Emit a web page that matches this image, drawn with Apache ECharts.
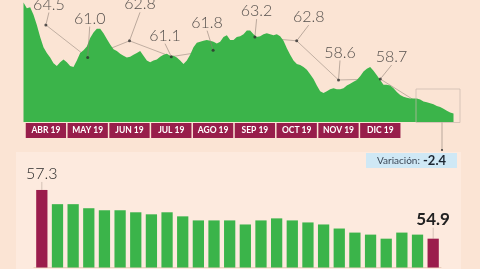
<!DOCTYPE html>
<html><head><meta charset="utf-8">
<script src="https://cdn.jsdelivr.net/npm/echarts@6/dist/echarts.min.js"></script>
<style>html,body{margin:0;padding:0;background:#fbe4d4;} #c{width:480px;height:269px;}</style>
</head><body><div id="c"></div>
<script>
// ---- data ----
const dailyValues = [
66.9, 66.3, 66.4, 65.6, 64.5, 63.2, 62.1, 61.5, 61.0, 60.4,
60.1, 60.5, 60.8, 60.5, 60.1, 60.0, 60.7, 61.5, 61.8, 62.2,
63.1, 63.7, 64.1, 64.1, 63.6, 63.0, 62.4, 61.9, 61.7, 61.4,
61.2, 61.0, 61.1, 61.3, 61.5, 61.7, 61.2, 60.7, 60.5, 60.7,
60.8, 61.1, 61.3, 61.4, 61.2, 61.2, 61.0, 60.7, 60.3, 60.7,
61.3, 62.1, 62.6, 62.7, 62.8, 62.9, 62.8, 62.7, 62.5, 62.7,
63.2, 63.4, 62.9, 62.9, 63.2, 63.3, 63.5, 63.9, 63.9, 63.5,
63.2, 63.3, 63.5, 63.6, 63.5, 63.4, 63.5, 63.3, 62.8, 62.0,
61.3, 60.7, 60.3, 60.2, 60.0, 59.7, 59.2, 58.7, 58.0, 57.4,
57.2, 57.4, 57.6, 57.7, 57.6, 57.6, 57.7, 58.0, 58.2, 58.4,
58.6, 59.0, 59.5, 59.8, 60.0, 59.6, 59.1, 58.6, 58.1, 58.1,
58.0, 57.7, 57.3, 57.0, 56.8, 56.7, 56.6, 56.6, 56.6, 56.5,
56.3, 56.2, 56.1, 56.0, 55.8, 55.7, 55.5, 55.3, 55.1, 55.0
];
const monthLabels = ['ABR 19','MAY 19','JUN 19','JUL 19','AGO 19','SEP 19','OCT 19','NOV 19','DIC 19','ENE 20'];
const monthlyValues = [64.5, 61.0, 62.8, 61.1, 61.8, 63.2, 62.8, 58.6, 58.7, 55.9];
const barCategories = ['1','2','3','4','5','6','7','8','9','10','11','12','13','14','15','16','17','18','19','20','21','22','23','24','25','26'];
const barValues = [57.3, 56.6, 56.6, 56.4, 56.3, 56.3, 56.2, 56.1, 56.2, 56.0, 55.8, 55.8, 55.8, 55.6, 55.8, 55.9, 55.8, 55.7, 55.6, 55.4, 55.2, 55.1, 54.9, 55.2, 55.1, 54.9];
const variationLabel = 'Variación:';
const variationValue = '-2.4';

// ---- styling / layout ----
const GREEN = '#3bb44a', MAROON = '#9b1d4c';
const labelOffsets = [[3,-20.5],[2,-39],[10.5,-36.5],[-6.3,-21],[-6,-27.5],[1.7,-26],[12,-23.7],[1.5,-27.5],[11.3,-22]];
const FONT = 'Lato, "Open Sans", sans-serif';

const chart = echarts.init(document.getElementById('c'), null, {renderer:'canvas'});

const monthAxisData = monthLabels.map((m, i) => i < 9 ? m : {value: m, textStyle: {color: 'transparent', backgroundColor: 'transparent'}});

const dotData = monthlyValues.map((v, i) => i < 9 ? v : {value: v, symbolSize: 0, label: {show: false}, labelLine: {show: false}});

const barData = barValues.map((v, i) => {
  const last = i === barValues.length - 1;
  const first = i === 0;
  const item = {value: v, itemStyle: {color: (first || last) ? MAROON : GREEN}};
  if (first) item.label = {show: true, position: 'top', distance: 0, fontSize: 16, fontWeight: 300, fontFamily: FONT, color: '#2a2a2a'};
  if (last) item.label = {show: true, position: 'top', distance: 0, fontSize: 17, fontWeight: 'bold', fontFamily: FONT, color: '#222'};
  return item;
});

chart.setOption({
  backgroundColor: '#fbe4d4',
  animation: false,
  grid: [
    {left: 23.5, width: 430, top: 0, height: 122},
    {left: 25, width: 418, top: 0, height: 122},
    {left: 34, right: 39, top: 152, bottom: 1.5}
  ],
  xAxis: [
    {gridIndex: 0, type: 'category', boundaryGap: false, show: false},
    {gridIndex: 1, type: 'category', data: monthAxisData, axisLine: {show: false}, axisTick: {show: false},
     axisLabel: {margin: 1, color: '#fff', fontWeight: 'bold', fontSize: 8.5, fontFamily: FONT,
       backgroundColor: '#981e4b', width: 40.3, height: 15, lineHeight: 15, align: 'center', verticalAlign: 'top', padding: 0}},
    {gridIndex: 2, type: 'category', data: barCategories, axisLine: {show: true, lineStyle: {color: '#e9cdbd', width: 1}}, axisTick: {show: false}, axisLabel: {show: false}}
  ],
  yAxis: [
    {gridIndex: 0, type: 'value', min: 54.09, max: 67.18, show: false},
    {gridIndex: 1, type: 'value', min: 54.09, max: 67.18, show: false},
    {gridIndex: 2, type: 'value', min: 53.48, max: 59.17, show: false}
  ],
  series: [
    {type: 'line', xAxisIndex: 1, yAxisIndex: 1, data: monthlyValues, symbol: 'none', z: 1,
     lineStyle: {color: '#a8988c', width: 0.7}},
    {type: 'line', xAxisIndex: 0, yAxisIndex: 0, data: dailyValues, showSymbol: false, symbol: 'none', z: 2,
     lineStyle: {width: 0}, areaStyle: {color: GREEN, opacity: 1}},
    {type: 'scatter', xAxisIndex: 1, yAxisIndex: 1, data: dotData, symbolSize: 3, z: 3,
     itemStyle: {color: '#2d2d2d'},
     label: {show: true, position: 'inside', formatter: p => p.value.toFixed(1), fontSize: 16, fontWeight: 300, fontFamily: FONT, color: '#2b2b2b'},
     labelLayout: p => { const o = labelOffsets[p.dataIndex]; return o ? {dx: o[0], dy: o[1]} : {}; },
     labelLine: {show: true, lineStyle: {color: '#8f8076', width: 0.6}}
    },
    {type: 'bar', xAxisIndex: 2, yAxisIndex: 2, data: barData, barCategoryGap: '28%', z: 3,
     label: {show: false},
     labelLayout: p => (p.dataIndex === 0 ? {dy: -8} : (p.dataIndex === barValues.length - 1 ? {dy: -11} : {})),
     labelLine: {show: true, lineStyle: {color: '#b8a79c', width: 0.6}}
    }
  ],
  graphic: [
    {type: 'rect', z: -10, silent: true, shape: {x: 16, y: 152, width: 445, height: 120}, style: {fill: '#fdeade'}},
    {type: 'rect', z: 10, silent: true, shape: {x: 416, y: 89, width: 44, height: 33.5}, style: {fill: 'none', stroke: '#c9b8ad', lineWidth: 0.7}},
    {type: 'line', z: 10, silent: true, shape: {x1: 442, y1: 122.5, x2: 442, y2: 150}, style: {stroke: '#8f8076', lineWidth: 0.6}},
    {type: 'circle', z: 10, silent: true, shape: {cx: 442, cy: 150, r: 1}, style: {fill: '#333'}},
    {type: 'rect', z: 10, silent: true, shape: {x: 366, y: 153, width: 91, height: 15}, style: {fill: '#cfe8f5'}},
    {type: 'text', z: 11, silent: true, x: 377, y: 160.5, style: {text: variationLabel, fontSize: 10, fontFamily: FONT, fill: '#3b4756', verticalAlign: 'middle'}},
    {type: 'text', z: 11, silent: true, x: 423, y: 160.5, style: {text: variationValue, fontSize: 13, fontWeight: 'bold', fontFamily: FONT, fill: '#1d2733', verticalAlign: 'middle'}}
  ]
});
</script></body></html>
